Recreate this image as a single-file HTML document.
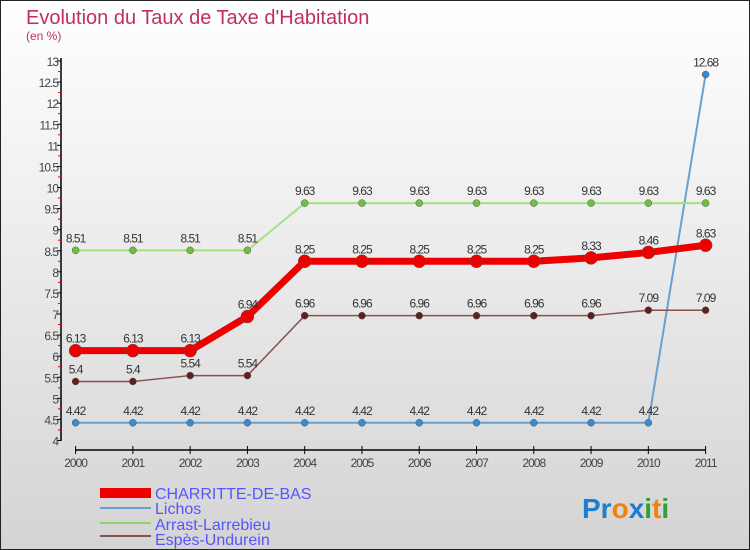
<!DOCTYPE html>
<html><head><meta charset="utf-8"><style>
body{margin:0}
#c{width:750px;height:550px;position:relative;overflow:hidden;background:linear-gradient(#ffffff,#d4d4d4);box-sizing:border-box;border:1px solid #222;font-family:"Liberation Sans",sans-serif}
</style></head><body>
<div id="c">
<svg id="s" width="750" height="550" style="position:absolute;left:-1px;top:-1px">
<text x="26" y="24" font-size="20" fill="#c0305a">Evolution du Taux de Taxe d'Habitation</text>
<text x="26" y="40" font-size="12" fill="#c0305a">(en %)</text>
<g id="ax"></g><g id="ser"></g>
<g>
<rect x="100" y="488" width="51" height="10" fill="#e00"/>
<text x="155" y="499" font-size="16" fill="#55f">CHARRITTE-DE-BAS</text>
<line x1="100" y1="508" x2="151" y2="508" stroke="#6aa0d0" stroke-width="2"/>
<text x="155" y="514" font-size="16" fill="#55f">Lichos</text>
<line x1="100" y1="523" x2="151" y2="523" stroke="#8fd46a" stroke-width="2"/>
<text x="155" y="530" font-size="16" fill="#55f">Arrast-Larrebieu</text>
<line x1="100" y1="536" x2="151" y2="536" stroke="#8a5050" stroke-width="2"/>
<text x="155" y="545" font-size="16" fill="#55f">Espès-Undurein</text>
</g>
<text x="582" y="518" font-size="28" font-weight="bold"><tspan fill="#1a7fd0">Pr</tspan><tspan fill="#f08010">o</tspan><tspan fill="#1a7fd0">x</tspan><tspan fill="#30a030">i</tspan><tspan fill="#f08010">t</tspan><tspan fill="#30a030">i</tspan></text>
</svg></div>
<script>
const years=[2000,2001,2002,2003,2004,2005,2006,2007,2008,2009,2010,2011];
const yTicks=[4,4.5,5,5.5,6,6.5,7,7.5,8,8.5,9,9.5,10,10.5,11,11.5,12,12.5,13];
const charritte=[6.13,6.13,6.13,6.94,8.25,8.25,8.25,8.25,8.25,8.33,8.46,8.63];
const lichos=[4.42,4.42,4.42,4.42,4.42,4.42,4.42,4.42,4.42,4.42,4.42,12.68];
const arrast=[8.51,8.51,8.51,8.51,9.63,9.63,9.63,9.63,9.63,9.63,9.63,9.63];
const espes=[5.4,5.4,5.54,5.54,6.96,6.96,6.96,6.96,6.96,6.96,7.09,7.09];
const NS="http://www.w3.org/2000/svg";
function X(i){return 75.6+i*(705.6-75.6)/(years.length-1);}
function Y(v){return 440.5-(v-4)*(440.5-61)/9;}
function mk(t,a,p){const e=document.createElementNS(NS,t);for(const k in a)e.setAttribute(k,a[k]);p.appendChild(e);return e;}
const ax=document.getElementById('ax');
let yl=mk('line',{x1:61,y1:58,x2:61,y2:441,stroke:'#000','stroke-width':1.5},ax);


yTicks.forEach(v=>{
 const t=mk('line',{x1:57,x2:61,y1:Y(v),y2:Y(v),stroke:'#000'},ax);
 
 
 const l=mk('text',{x:58,y:Y(v)+5,'text-anchor':'end','font-size':12,fill:'#444','letter-spacing':'-1'},ax);
 l.textContent=String(v);
 
 
 if(v<13){const m=mk('line',{x1:58,x2:61,y1:Y(v+0.25),y2:Y(v+0.25),stroke:'#e00'},ax);
 
 }
});
let xl=mk('line',{x1:75,y1:450,x2:706,y2:450,stroke:'#000','stroke-width':1.5},ax);


years.forEach((yr,i)=>{
 const t=mk('line',{x1:X(i),x2:X(i),y1:446,y2:454,stroke:'#000'},ax);
 
 
 const l=mk('text',{x:X(i),y:467,'text-anchor':'middle','font-size':12,fill:'#444','letter-spacing':'-1'},ax);
 l.textContent=yr;
 
 
});
const ser=document.getElementById('ser');
function draw(vals,name,col,w,r,dot,lab){
 const g=mk('g',{},ser);
 
 
 const p=mk('polyline',{points:vals.map((v,i)=>X(i)+','+Y(v)).join(' '),fill:'none',stroke:col,'stroke-width':w,'stroke-linejoin':'round'},g);
 
 
 vals.forEach((v,i)=>{
  const c=mk('circle',{cx:X(i),cy:Y(v),r:r,fill:dot,stroke:'#555','stroke-width':0.5},g);
  
  
  const t=mk('text',{x:X(i),y:Y(v)-8,'text-anchor':'middle','font-size':12,fill:'#333','letter-spacing':'-1'},g);
  t.textContent=String(v);
  
  
 });
}
draw(lichos,'lichos','#6aa0d0',2,3.5,'#3a8ad0');
draw(arrast,'arrast','#a8e080',2,3.5,'#70c040');
draw(espes,'espes','#8a5050',1.5,3.5,'#602020');
draw(charritte,'charritte','#ee0000',7,6.5,'#ee0000');
</script>
</body></html>
